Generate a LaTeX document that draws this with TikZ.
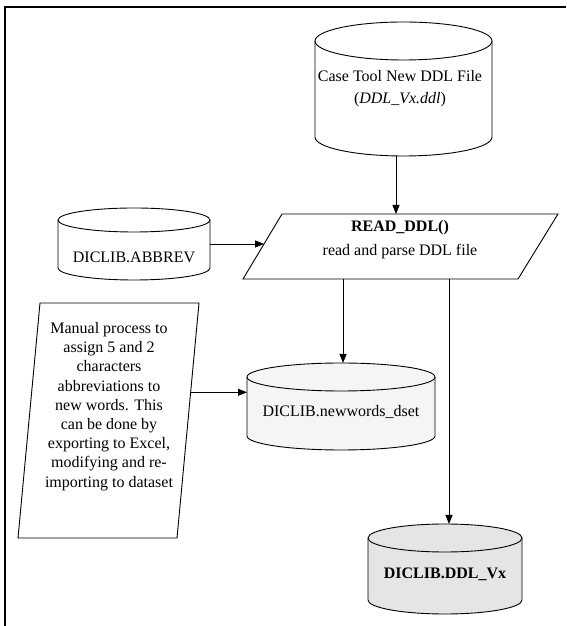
\documentclass[tikz,border=0pt]{standalone}
\usepackage{fontspec}
\setmainfont{Liberation Serif}
\usetikzlibrary{arrows.meta,calc}

\tikzset{
  outline/.style={draw=black,line width=0.9pt},
  arr/.style={draw=black,line width=0.9pt,-{Triangle[length=9pt,width=7pt]}},
  lbl/.style={align=center,inner sep=0pt,font=\fontsize{16}{19}\selectfont},
  hull/.style={inner sep=0pt,outer sep=0pt},
}

% database cylinder: name, centre x, half width, top y, bottom y, ellipse radius, fill
\newcommand\dbcyl[7]{%
  \draw[outline,fill=#7] ({#2-#3},{#4-#6}) -- ({#2-#3},{#5+#6})
    arc[start angle=180,end angle=360,x radius=#3,y radius=#6]
    -- ({#2+#3},{#4-#6})
    arc[start angle=0,end angle=180,x radius=#3,y radius=#6] -- cycle;
  \draw[outline] ({#2-#3},{#4-#6})
    arc[start angle=180,end angle=360,x radius=#3,y radius=#6];
  \node[hull,minimum width={2*#3},minimum height={#4-#5}] (#1) at ({#2},{(#4+#5)/2}) {};
}

\begin{document}
\begin{tikzpicture}[x=1pt,y=1pt]
\useasboundingbox (0,0) rectangle (566,626);
\fill[white] (0,0) rectangle (566,626);

% page frame
\draw[line width=1.3pt] (566,619) -- (5,619) -- (5,0);

% data stores
\dbcyl{case}{403.5}{88.5}{604}{470}{19}{white}
\dbcyl{abbrev}{134}{76}{418}{346}{12}{white}
\dbcyl{words}{341}{94}{263}{176}{14}{black!4}
\dbcyl{ddl}{445}{77}{102}{12}{14}{black!10}

% process READ_DDL()
\coordinate (rTL) at (282,412);
\coordinate (rTR) at (558,412);
\coordinate (rBR) at (518,347);
\coordinate (rBL) at (243,347);
\draw[outline] (rTL) -- (rTR) -- (rBR) -- (rBL) -- cycle;
\node[hull,minimum width=315,minimum height=65] (read) at (400.5,379.5) {};

% manual step
\coordinate (mTL) at (40,323);
\coordinate (mTR) at (199,323);
\coordinate (mBR) at (177,88);
\coordinate (mBL) at (18,88);
\draw[outline] (mTL) -- (mTR) -- (mBR) -- (mBL) -- cycle;

% labels
\node[lbl,font=\fontsize{16}{22}\selectfont] (caseTxt) at (400,537)
  {Case Tool New DDL File\\(\textit{DDL\_Vx.ddl})};
\node[lbl,font=\fontsize{16}{24}\selectfont] (readTxt) at (400,386)
  {\textbf{READ\_DDL()}\\read and parse DDL file};
\node[lbl] (abbrevTxt) at (134,369) {DICLIB.ABBREV};
\node[lbl,font=\fontsize{16}{19.2}\selectfont] (manual) at (109,219.5)
  {Manual process to\\assign 5 and 2\\characters\\abbreviations to\\new words. This\\can be done by\\exporting to Excel,\\modifying and re-\\importing to dataset};
\node[lbl] (wordsTxt) at (341,214) {DICLIB.newwords\_dset};
\node[lbl] (ddlTxt) at (445,52) {\textbf{DICLIB.DDL\_Vx}};

% connectors
\coordinate (readW) at ($(rTL)!0.46!(rBL)$);
\coordinate (manE) at ($(mTR)!0.38!(mBR)$);
\draw[arr] ([xshift=-7.5pt]case.south) -- ([xshift=-7.5pt]case.south |- read.north);
\draw[arr] (abbrev.east) -- (abbrev.east -| readW);
\draw[arr] ([xshift=2pt]words.north |- read.south) -- ([xshift=2pt]words.north);
\draw[arr] ([xshift=4pt]ddl.north |- read.south) -- ([xshift=4pt]ddl.north);
\draw[arr] (manE) -- (manE -| words.west);
\end{tikzpicture}
\end{document}
